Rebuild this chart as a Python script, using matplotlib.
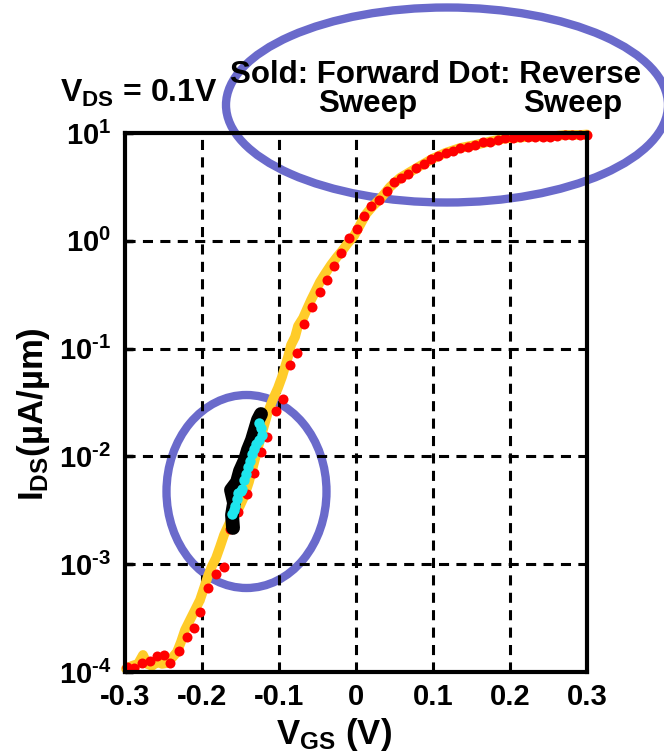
import matplotlib
matplotlib.use("Agg")
import matplotlib.pyplot as plt
from matplotlib.patches import Ellipse

plt.rcParams['font.family'] = ['Liberation Sans', 'DejaVu Sans']
plt.rcParams['font.weight'] = 'bold'
plt.rcParams['mathtext.fontset'] = 'custom'
plt.rcParams['mathtext.rm'] = 'Liberation Sans:bold'
plt.rcParams['mathtext.bf'] = 'Liberation Sans:bold'
plt.rcParams['mathtext.it'] = 'Liberation Sans:bold'
plt.rcParams['mathtext.default'] = 'rm'

# Reverse sweep (red dots): VGS in V, IDS in uA/um
vgs_rev = [-0.298, -0.288, -0.278, -0.268, -0.259, -0.250, -0.241, -0.230, -0.220, -0.211,
           -0.203, -0.192, -0.182, -0.172, -0.164, -0.153, -0.142, -0.133, -0.123, -0.115,
           -0.104, -0.095, -0.086, -0.076, -0.067, -0.057, -0.047, -0.038, -0.028, -0.019,
           -0.009, 0.001, 0.010, 0.020, 0.030, 0.040, 0.049, 0.058, 0.068, 0.078,
           0.088, 0.098, 0.107, 0.117, 0.126, 0.135, 0.145, 0.155, 0.165, 0.174,
           0.184, 0.194, 0.204, 0.213, 0.223, 0.233, 0.243, 0.252, 0.261, 0.271,
           0.281, 0.291, 0.300]
ids_rev = [1.12e-4, 1.08e-4, 1.21e-4, 1.26e-4, 1.41e-4, 1.43e-4, 1.21e-4, 1.57e-4, 2.10e-4, 2.57e-4,
           3.62e-4, 5.97e-4, 8.17e-4, 9.48e-4, 2.11e-3, 3.05e-3, 4.45e-3, 7.01e-3, 1.11e-2, 1.50e-2,
           2.65e-2, 3.43e-2, 7.05e-2, 9.16e-2, 0.170, 0.243, 0.335, 0.433, 0.579, 0.778,
           1.07, 1.29, 1.69, 2.09, 2.39, 2.92, 3.48, 3.84, 4.19, 4.75,
           5.11, 5.68, 6.15, 6.49, 6.85, 7.21, 7.46, 7.74, 8.20, 8.30,
           8.61, 8.93, 8.93, 9.12, 9.12, 9.25, 9.25, 9.25, 9.38, 9.57,
           9.57, 9.57, 9.68]

# Forward sweep (thick yellow line)
vgs_fwd = [-0.2987, -0.2909, -0.2831, -0.2766, -0.2714, -0.2649, -0.2584, -0.2519, -0.2455, -0.2390,
           -0.2325, -0.2273, -0.2221, -0.2156, -0.2091, -0.2026, -0.1974, -0.1922, -0.1870, -0.1818,
           -0.1766, -0.1714, -0.1636, -0.1532, -0.1455, -0.1390, -0.1325, -0.1260, -0.1195, -0.1143,
           -0.1078, -0.1013, -0.0961, -0.0883, -0.0844, -0.0792, -0.0753, -0.0688, -0.0636, -0.0584,
           -0.0532, -0.0468, -0.0403, -0.0325, -0.0247, -0.0182, -0.0104, -0.0026, 0.0052, 0.0130,
           0.0208, 0.0312, 0.0442, 0.0571, 0.0701, 0.0831, 0.0987, 0.1156, 0.1351, 0.1545,
           0.1740, 0.1935, 0.2130, 0.2325, 0.2519, 0.2714, 0.2909, 0.3000]
ids_fwd = [1.07e-4, 1.14e-4, 1.19e-4, 1.44e-4, 1.19e-4, 1.14e-4, 1.24e-4, 1.19e-4, 1.21e-4, 1.35e-4,
           1.53e-4, 1.90e-4, 2.45e-4, 3.04e-4, 3.76e-4, 4.66e-4, 6.01e-4, 7.78e-4, 9.62e-4, 1.14e-3,
           1.45e-3, 1.87e-3, 2.47e-3, 3.19e-3, 4.20e-3, 5.79e-3, 8.69e-3, 1.30e-2, 1.91e-2, 2.58e-2,
           3.40e-2, 4.32e-2, 5.46e-2, 8.36e-2, 0.108, 0.128, 0.162, 0.192, 0.233, 0.282,
           0.335, 0.415, 0.492, 0.597, 0.708, 0.804, 0.955, 1.11, 1.40, 1.77,
           2.06, 2.44, 3.16, 3.83, 4.35, 4.94, 5.74, 6.52, 7.26, 7.74,
           8.34, 8.89, 9.08, 9.29, 9.29, 9.58, 9.58, 9.69]

# Second device, forward (black line) and reverse (cyan dots)
vgs_b_fwd = [-0.1597, -0.1610, -0.1584, -0.1623, -0.1545, -0.1506, -0.1442, -0.1403, -0.1351, -0.1312,
             -0.1273, -0.1234]
ids_b_fwd = [2.17e-3, 2.86e-3, 3.70e-3, 4.88e-3, 5.79e-3, 7.33e-3, 9.27e-3, 1.15e-2, 1.42e-2, 1.76e-2,
             2.18e-2, 2.47e-2]
vgs_b_rev = [-0.1614, -0.1590, -0.1571, -0.1540, -0.1529, -0.1500, -0.1484, -0.1451, -0.1425,
             -0.1399, -0.1380, -0.1355, -0.1320, -0.1299, -0.1262, -0.1225, -0.1240, -0.1256]
ids_b_rev = [2.92e-3, 3.20e-3, 3.47e-3, 4.00e-3, 4.60e-3, 4.75e-3, 5.00e-3, 6.04e-3, 6.90e-3,
             7.93e-3, 9.00e-3, 1.05e-2, 1.17e-2, 1.30e-2, 1.42e-2, 1.58e-2, 1.82e-2, 2.06e-2]

x_ticks = [-0.3, -0.2, -0.1, 0.0, 0.1, 0.2, 0.3]
x_tick_labels = ['-0.3', '-0.2', '-0.1', '0', '0.1', '0.2', '0.3']
y_ticks = [1e-4, 1e-3, 1e-2, 1e-1, 1e0, 1e1]
y_tick_labels = [r'$10^{\text{-}4}$', r'$10^{\text{-}3}$', r'$10^{\text{-}2}$',
                 r'$10^{\text{-}1}$', r'$10^{0}$', r'$10^{1}$']

W, H = 664, 754
fig = plt.figure(figsize=(W / 100, H / 100), dpi=100)
ax = fig.add_axes([125 / W, 1 - 672 / H, 462 / W, 539 / H])
ax.set_facecolor('none')
ax.set_yscale('log')
ax.set_xlim(-0.3, 0.3)
ax.set_ylim(1e-4, 1e1)

dash = (0, (3.3, 2.4))
for xv in x_ticks[1:-1]:
    ax.axvline(xv, color='black', lw=2.2, ls=dash, zorder=1)
for yv in y_ticks[1:-1]:
    ax.axhline(yv, color='black', lw=2.2, ls=dash, zorder=1)

ax.plot(vgs_fwd, ids_fwd, color='#ffcc29', lw=7, solid_joinstyle='round',
        solid_capstyle='round', zorder=3, clip_on=False)
ax.plot(vgs_rev, ids_rev, 'o', color='#ff0000', ms=7.2, mec='none', zorder=4, clip_on=False)
ax.plot(vgs_b_fwd, ids_b_fwd, color='black', lw=10, solid_joinstyle='round',
        solid_capstyle='round', zorder=5)
ax.plot(vgs_b_rev, ids_b_rev, 'o', color='#1ee6ee', ms=7.5, mec='none', zorder=6)

ax.set_xticks(x_ticks)
ax.set_xticklabels(x_tick_labels)
ax.set_yticks(y_ticks)
ax.set_yticklabels(y_tick_labels)
ax.minorticks_off()
ax.tick_params(axis='both', direction='in', length=6, width=2.5, labelsize=21)
ax.tick_params(axis='y', pad=10)
ax.tick_params(axis='x', pad=8, length=0)
for s in ax.spines.values():
    s.set_linewidth(3)
    s.set_zorder(7)

fig.text(334 / W, 1 - 744 / H, r'$V_{GS}$ (V)', fontsize=25, ha='center', va='baseline')
fig.text(33 / W, 1 - 414 / H, r'$I_{DS}$(µA/µm)', fontsize=25, ha='center', va='center',
         rotation=90)

fig.text(60 / W, 1 - 102 / H, r'$V_{DS}$ = 0.1V', fontsize=23, ha='left', va='baseline', zorder=10)
fig.text(230 / W, 1 - 83 / H, 'Sold: Forward', fontsize=22.5, ha='left', va='baseline', zorder=10)
fig.text(318 / W, 1 - 112 / H, 'Sweep', fontsize=22.5, ha='left', va='baseline', zorder=10)
fig.text(448 / W, 1 - 83 / H, 'Dot: Reverse', fontsize=22.5, ha='left', va='baseline', zorder=10)
fig.text(523 / W, 1 - 112 / H, 'Sweep', fontsize=22.5, ha='left', va='baseline', zorder=10)

ring = '#6a6acb'
fig.add_artist(Ellipse((447 / W, 1 - 105 / H), 442 / W, 195 / H, transform=fig.transFigure,
                       fill=False, ec=ring, lw=6, zorder=-1))
fig.add_artist(Ellipse((246.5 / W, 1 - 491.5 / H), 160 / W, 193 / H, transform=fig.transFigure,
                       fill=False, ec=ring, lw=6, zorder=-1))

fig.savefig('out.png', dpi=100)
